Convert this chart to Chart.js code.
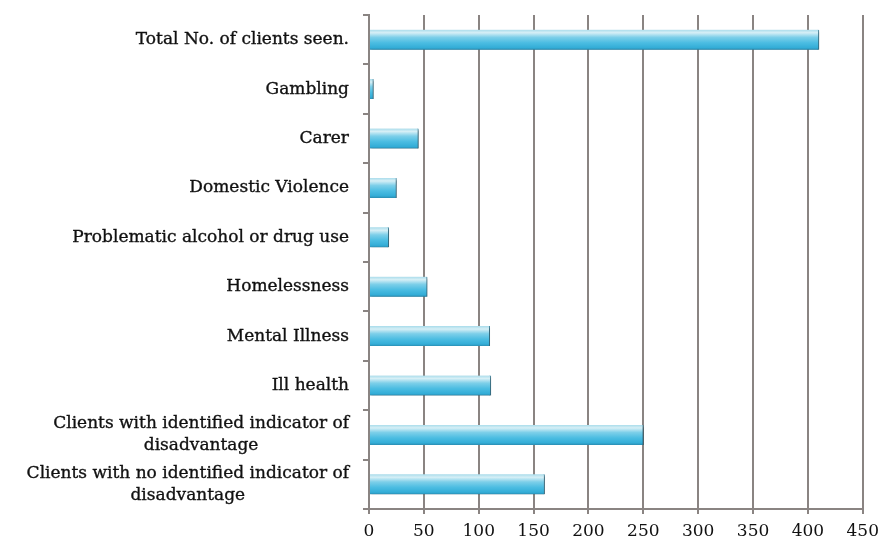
<!DOCTYPE html>
<html>
<head>
<meta charset="utf-8">
<script src="https://cdn.jsdelivr.net/npm/chart.js@4.4.1/dist/chart.umd.min.js"></script>
<style>
  html, body { margin: 0; background: #fff; }
  #wrap { width: 886px; height: 545px; }
</style>
</head>
<body>
<div id="wrap"><canvas id="chart"></canvas></div>
<script>
// Categories, top to bottom, as in the picture
const categories = [
    ['Total No. of clients seen.'],
    ['Gambling'],
    ['Carer'],
    ['Domestic Violence'],
    ['Problematic alcohol or drug use'],
    ['Homelessness'],
    ['Mental Illness'],
    ['Ill health'],
    ['Clients with identified indicator of', 'disadvantage'],
    ['Clients with no identified indicator of', 'disadvantage']
];
const clientCounts = [410, 4, 45, 25, 18, 53, 110, 111, 250, 160];
const xTickValues = [0, 50, 100, 150, 200, 250, 300, 350, 400, 450];

const labelFont = '17px "DejaVu Serif", serif';
const gridGrey = '#8a8482';
const BAR_H = 20;

// draw the category labels: right aligned block, lines centred on each other
const yLabels = {
    id: 'yLabels',
    afterDraw(chart) {
        const y = chart.scales.y;
        const ctx = chart.ctx;
        const right = chart.chartArea.left - 20;
        ctx.save();
        ctx.font = labelFont;
        ctx.fillStyle = '#111';
        ctx.strokeStyle = '#111';
        ctx.lineWidth = 0.35;
        ctx.textAlign = 'center';
        ctx.textBaseline = 'middle';
        categories.forEach((lines, i) => {
            const cy = y.getPixelForTick(i);
            const maxW = Math.max(...lines.map(l => ctx.measureText(l).width));
            const cx = right - maxW / 2;
            lines.forEach((l, j) => {
                const ly = cy + (j - (lines.length - 1) / 2) * 22;
                ctx.fillText(l, cx, ly);
                ctx.strokeText(l, cx, ly);
            });
        });
        ctx.restore();
    }
};

// soft drop shadow under bars
const barShadow = {
    id: 'barShadow',
    beforeDatasetsDraw(chart) {
        const ctx = chart.ctx;
        ctx.save();
        ctx.shadowColor = 'rgba(0,0,0,0.35)';
        ctx.shadowBlur = 2;
        ctx.shadowOffsetX = 1;
        ctx.shadowOffsetY = 2;
    },
    afterDatasetsDraw(chart) {
        chart.ctx.restore();
    }
};

function tubeFill(c) {
    const chart = c.chart;
    if (!chart.chartArea) return '#5bc3e1';
    const cy = chart.scales.y.getPixelForValue(c.dataIndex);
    const g = chart.ctx.createLinearGradient(0, cy - BAR_H / 2, 0, cy + BAR_H / 2);
    g.addColorStop(0, '#a9dceb');
    g.addColorStop(0.15, '#d6eff6');
    g.addColorStop(0.38, '#7dcfe9');
    g.addColorStop(0.65, '#4cbde2');
    g.addColorStop(0.9, '#33add7');
    g.addColorStop(1, '#2a8db2');
    return g;
}

new Chart(document.getElementById('chart'), {
    type: 'bar',
    data: {
        labels: categories,
        datasets: [{
            data: clientCounts,
            backgroundColor: tubeFill,
            borderColor: 'rgba(30,110,140,0.8)',
            borderWidth: { top: 0, right: 1, bottom: 0, left: 0 },
            borderSkipped: false,
            barThickness: BAR_H
        }]
    },
    plugins: [barShadow, yLabels],
    options: {
        indexAxis: 'y',
        responsive: true,
        maintainAspectRatio: false,
        animation: false,
        layout: { padding: { top: 15, right: 16, bottom: 3, left: 0 } },
        plugins: {
            legend: { display: false },
            tooltip: { enabled: false }
        },
        scales: {
            x: {
                min: 0,
                max: 450,
                afterBuildTicks: scale => {
                    scale.ticks = xTickValues.map(v => ({ value: v }));
                },
                afterFit: scale => { scale.height = 33; },
                grid: {
                    color: gridGrey,
                    lineWidth: 2,
                    tickLength: 5
                },
                border: { color: gridGrey, width: 2 },
                ticks: {
                    color: '#111',
                    padding: 7,
                    maxRotation: 0,
                    font: { family: '"DejaVu Serif", serif', size: 17 }
                }
            },
            y: {
                afterFit: scale => { scale.width = 369; },
                grid: {
                    offset: true,
                    drawOnChartArea: false,
                    color: gridGrey,
                    lineWidth: 2,
                    tickLength: 6
                },
                border: { color: gridGrey, width: 2 },
                ticks: { display: false }
            }
        }
    }
});
</script>
</body>
</html>
